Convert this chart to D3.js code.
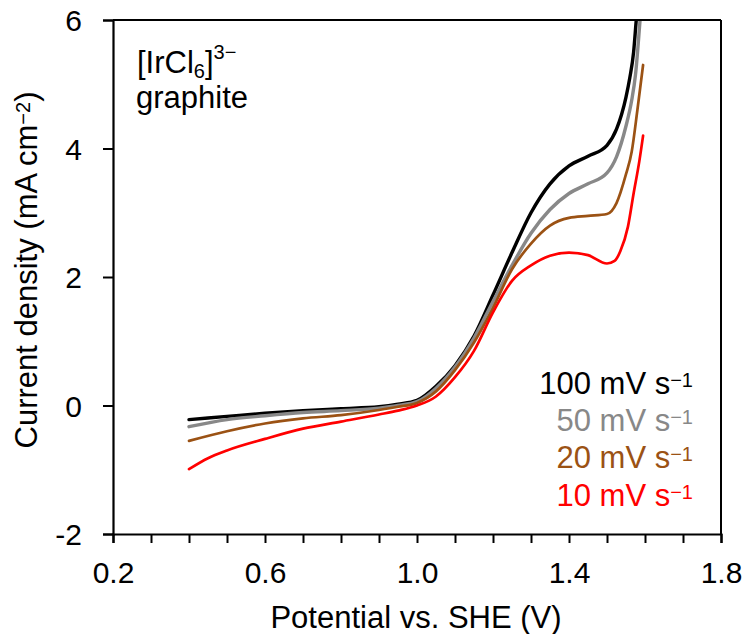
<!DOCTYPE html>
<html><head><meta charset="utf-8">
<script src="https://cdn.jsdelivr.net/npm/d3@7"></script>
<style>body{margin:0;background:#fff}svg text{font-family:"Liberation Sans",Arial,sans-serif}</style>
</head><body>
<svg id="c" width="744" height="634"></svg>
<script>
const xTicksMajor = [0.2, 0.6, 1.0, 1.4, 1.8];
const xTicksMinor = [0.3,0.4,0.5,0.7,0.8,0.9,1.1,1.2,1.3,1.5,1.6,1.7];
const yTicks = [-2, 0, 2, 4, 6];

const potential100 = [0.40,0.50,0.60,0.70,0.80,0.90,0.95,1.00,1.05,1.10,1.15,1.20,1.25,1.30,1.35,1.40,1.45,1.50,1.525,1.55,1.56,1.57,1.577,1.59];
const current100   = [-0.22,-0.17,-0.12,-0.08,-0.05,-0.02,0.02,0.08,0.30,0.62,1.08,1.72,2.38,3.0,3.45,3.73,3.88,4.05,4.3,4.8,5.1,5.5,6.0,6.8];

const potential50 = [0.40,0.50,0.60,0.70,0.80,0.90,0.95,1.00,1.05,1.10,1.15,1.20,1.25,1.30,1.35,1.40,1.45,1.50,1.525,1.55,1.565,1.575,1.587,1.595];
const current50   = [-0.33,-0.22,-0.16,-0.11,-0.08,-0.04,0.0,0.06,0.27,0.60,1.05,1.62,2.18,2.68,3.05,3.30,3.45,3.62,3.87,4.35,4.75,5.15,6.0,6.6];

const potential20 = [0.40,0.50,0.60,0.70,0.80,0.90,0.95,1.00,1.05,1.10,1.15,1.20,1.25,1.30,1.35,1.40,1.45,1.50,1.525,1.55,1.565,1.58,1.595];
const current20   = [-0.55,-0.40,-0.28,-0.20,-0.15,-0.07,-0.02,0.04,0.22,0.55,0.98,1.52,2.12,2.52,2.80,2.92,2.95,2.98,3.15,3.6,3.95,4.6,5.3];

const potential10 = [0.40,0.45,0.50,0.60,0.70,0.80,0.90,0.95,1.00,1.05,1.10,1.15,1.20,1.25,1.30,1.35,1.40,1.45,1.50,1.52,1.535,1.555,1.57,1.585,1.595];
const current10   = [-0.99,-0.82,-0.70,-0.52,-0.36,-0.25,-0.14,-0.08,0.0,0.14,0.44,0.85,1.45,1.94,2.18,2.33,2.38,2.34,2.21,2.25,2.4,2.78,3.3,3.8,4.2];

const seriesNames = ["100 mV s", "50 mV s", "20 mV s", "10 mV s"];
const seriesColors = ["#000000", "#888888", "#9b5214", "#ff0000"];
const seriesX = [potential100, potential50, potential20, potential10];
const seriesY = [current100, current50, current20, current10];

const svg = d3.select("#c");
const L = 113, R = 721, T = 20, B = 534;
const x = d3.scaleLinear().domain([0.2, 1.8]).range([L, R]);
const y = d3.scaleLinear().domain([-2, 6]).range([B, T]);
const FT = 30, FS = 31, SUP = 20;

svg.append("defs").append("clipPath").attr("id","clip")
  .append("rect").attr("x",L).attr("y",T).attr("width",R-L).attr("height",B-T);

const line = d3.line().x(d=>x(d[0])).y(d=>y(d[1])).curve(d3.curveMonotoneX);
const g = svg.append("g").attr("clip-path","url(#clip)");
[0,1,2,3].forEach(i=>{
  const pts = seriesX[i].map((v,k)=>[v, seriesY[i][k]]);
  g.append("path").datum(pts).attr("d",line).attr("fill","none")
    .attr("stroke",seriesColors[i]).attr("stroke-width", i<2?3.4:2.7)
    .attr("stroke-linejoin","round").attr("stroke-linecap","round");
});

// frame
svg.append("line").attr("x1",L).attr("x2",R).attr("y1",T).attr("y2",T).attr("stroke","#000").attr("stroke-width",2);
svg.append("line").attr("x1",R).attr("x2",R).attr("y1",T).attr("y2",B).attr("stroke","#000").attr("stroke-width",2);

// axes
const xAxis = d3.axisBottom(x).tickValues(xTicksMajor).tickSize(9).tickFormat(d3.format(".1f"));
const gx = svg.append("g").attr("transform",`translate(0,${B})`).call(xAxis);
gx.selectAll(".tick text").attr("font-size",FT).attr("y",49).attr("dy",0).attr("fill","#000");
const gxm = svg.append("g").attr("transform",`translate(0,${B})`).call(d3.axisBottom(x).tickValues(xTicksMinor).tickSize(9).tickFormat(""));
gxm.select(".domain").remove();
const yAxis = d3.axisLeft(y).tickValues(yTicks).tickSize(10).tickFormat(d=>String(d));
const gy = svg.append("g").attr("transform",`translate(${L},0)`).call(yAxis);
gy.selectAll(".tick text").attr("font-size",FT).attr("x",-31).attr("dy","0.36em").attr("fill","#000");
svg.selectAll(".domain").attr("stroke-width",2.2).attr("stroke","#000");
svg.selectAll(".tick line").attr("stroke-width",2).attr("stroke","#000");
svg.selectAll("g").filter(function(){return this.hasAttribute("font-family")}).attr("font-family",null);

// axis titles
svg.append("text").attr("x",416).attr("y",628).attr("text-anchor","middle").attr("font-size",FS)
  .text("Potential vs. SHE (V)");
const yt = svg.append("text").attr("transform",`translate(37,270) rotate(-90)`).attr("text-anchor","middle").attr("font-size",FS);
yt.append("tspan").text("Current density (mA cm");
yt.append("tspan").attr("font-size",SUP).attr("dy",-7).text("−2");
yt.append("tspan").attr("dy",7).text(")");

// annotation
const a1 = svg.append("text").attr("x",137).attr("y",73).attr("font-size",FS);
a1.append("tspan").text("[IrCl");
a1.append("tspan").attr("font-size",SUP).attr("dy",5).text("6");
a1.append("tspan").attr("dy",-5).text("]");
a1.append("tspan").attr("font-size",SUP).attr("dy",-14).text("3−");
svg.append("text").attr("x",136).attr("y",108).attr("font-size",FS).text("graphite");

// legend
seriesNames.forEach((n,i)=>{
  const t = svg.append("text").attr("x",693).attr("y",394+i*37.2).attr("text-anchor","end")
    .attr("font-size",FS).attr("fill",seriesColors[i]);
  t.append("tspan").text(n);
  t.append("tspan").attr("font-size",SUP).attr("dy",-7).text("−1");
});
</script>
</body></html>
